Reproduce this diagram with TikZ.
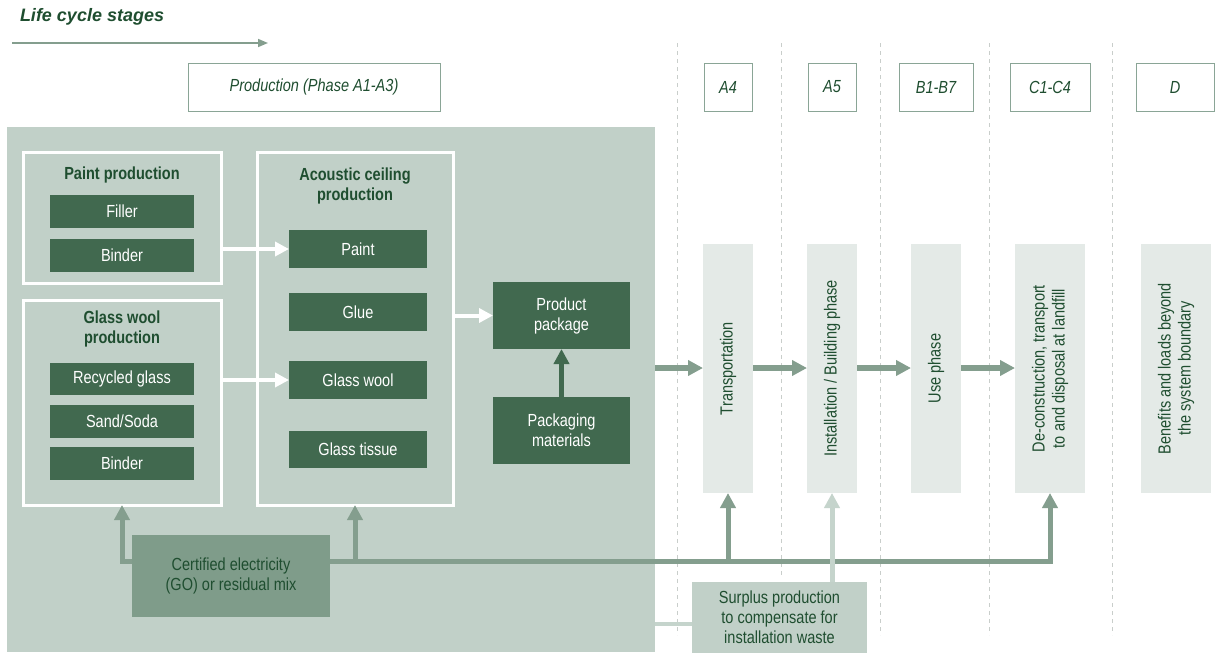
\documentclass[tikz,border=0pt]{standalone}
\usepackage{fontspec}
\setmainfont{Liberation Sans}[FakeStretch=0.83]
\newfontfamily\titlefont{Liberation Sans}
\usetikzlibrary{arrows.meta}
\definecolor{darkbox}{HTML}{41694F}
\definecolor{prodbgc}{HTML}{C1D0C8}
\definecolor{elecc}{HTML}{7F9C8A}
\definecolor{stagec}{HTML}{E4EAE7}
\definecolor{arrowc}{HTML}{849E8E}
\definecolor{surplusarr}{HTML}{C5D4CC}
\definecolor{txtc}{HTML}{1F4E30}
\definecolor{labelc}{HTML}{8AA596}
\definecolor{dashc}{HTML}{C9CECB}
\begin{document}
\begin{tikzpicture}[x=1pt,y=-1pt,
  every node/.style={inner sep=0pt, outer sep=0pt, font=\fontsize{17.5}{20}\selectfont, align=center},
  darkbox/.style={fill=darkbox, text=white, minimum width=144pt, minimum height=33pt},
  innerbox/.style={fill=darkbox, text=white, minimum width=138pt, minimum height=38pt},
  group/.style={draw=white, line width=3pt},
  grouptitle/.style={text=txtc, font=\fontsize{17.5}{20}\selectfont\bfseries},
  stagebox/.style={fill=stagec, minimum height=249pt},
  stagetext/.style={rotate=90, text=txtc},
  labelbox/.style={draw=labelc, line width=1pt, fill=white, minimum height=48pt, text=txtc, font=\fontsize{17.5}{20}\selectfont\itshape},
  divider/.style={draw=dashc, line width=1pt, dash pattern=on 4pt off 4pt},
  stagearrow/.style={draw=arrowc, line width=5.5pt, -{Triangle[length=15pt,width=15pt]}},
  elarrow/.style={draw=arrowc, line width=5pt, -{Triangle[length=15pt,width=15pt]}},
  whitearrow/.style={draw=white, line width=4pt, -{Triangle[length=14pt,width=14pt]}},
  packarrow/.style={draw=darkbox, line width=5pt, -{Triangle[length=15pt,width=15pt]}}
]
\fill[white] (0,0) rectangle (1216,653);
\useasboundingbox (0,0) rectangle (1216,653);

% title and life cycle arrow
\node[anchor=west, text=txtc, font=\fontsize{18}{20}\titlefont\bfseries\itshape] (lctitle) at (20,17) {Life cycle stages};
\coordinate (lcstart) at (12,43);
\coordinate (lcend) at (268,43);
\draw[draw=arrowc, line width=1.5pt, -{Triangle[length=10pt,width=8pt]}] (lcstart) -- (lcend);

% dashed dividers
\coordinate (d1t) at (677,43);  \coordinate (d1b) at (677,635);
\coordinate (d2t) at (781,43);  \coordinate (d2b) at (781,577);
\coordinate (d3t) at (880,43);  \coordinate (d3b) at (880,635);
\coordinate (d4t) at (989,43);  \coordinate (d4b) at (989,635);
\coordinate (d5t) at (1112,43); \coordinate (d5b) at (1112,635);
\foreach \i in {1,...,5} {\draw[divider] (d\i t) -- (d\i b);}

% stage labels
\node[labelbox, minimum width=252pt] (prodlab) at (314,87) {Production (Phase A1-A3)};
\node[labelbox, minimum width=48pt] (labA4) at (728,87) {A4};
\node[labelbox, minimum width=48pt] (labA5) at (832,87) {A5};
\node[labelbox, minimum width=74pt] (labB) at (936,87) {B1-B7};
\node[labelbox, minimum width=80pt] (labC) at (1050,87) {C1-C4};
\node[labelbox, minimum width=78pt] (labD) at (1175,87) {D};

% production background
\node[fill=prodbgc, minimum width=648pt, minimum height=525pt] (prodbg) at (331,389.5) {};

% groups
\node[group, minimum width=198pt, minimum height=131pt] (paintprod) at (122,217.5) {};
\node[group, minimum width=198pt, minimum height=205pt] (glassprod) at (122,402.5) {};
\node[group, minimum width=196pt, minimum height=353pt] (acoustic) at (355,328.5) {};
\node[grouptitle] (painttitle) at (122,175) {Paint production};
\node[grouptitle] (glasstitle) at (122,328.5) {Glass wool\\production};
\node[grouptitle] (acoustictitle) at (355,186) {Acoustic ceiling\\production};

% material boxes
\node[darkbox] (filler) at (122,211.5) {Filler};
\node[darkbox] (binderA) at (122,255.5) {Binder};
\node[darkbox, minimum height=32pt] (recycled) at (122,379) {Recycled glass};
\node[darkbox] (sand) at (122,421.5) {Sand/Soda};
\node[darkbox] (binderB) at (122,463.5) {Binder};

\node[innerbox] (paint) at (358,249) {Paint};
\node[innerbox] (glue) at (358,312) {Glue};
\node[innerbox] (gwool) at (358,380) {Glass wool};
\node[innerbox, minimum height=37pt] (tissue) at (358,449.5) {Glass tissue};

\node[fill=darkbox, text=white, minimum width=137pt, minimum height=67pt] (package) at (561.5,315.5) {Product\\package};
\node[fill=darkbox, text=white, minimum width=137pt, minimum height=67pt] (packmat) at (561.5,430.5) {Packaging\\materials};

% white arrows
\draw[whitearrow] (paintprod.east |- paint) -- (paint.west);
\draw[whitearrow] (glassprod.east |- gwool) -- (gwool.west);
\draw[whitearrow] (acoustic.east |- package) -- (package.west);
\draw[packarrow] (packmat.north) -- (package.south);

% stage boxes
\node[stagebox, minimum width=50pt] (trans) at (728,368.5) {};
\node[stagebox, minimum width=50pt] (install) at (832,368.5) {};
\node[stagebox, minimum width=50pt] (use) at (936,368.5) {};
\node[stagebox, minimum width=70pt] (decon) at (1050,368.5) {};
\node[stagebox, minimum width=70pt] (benefit) at (1176,368.5) {};
\node[stagetext] (transtxt) at (trans) {Transportation};
\node[stagetext] (installtxt) at (install) {Installation / Building phase};
\node[stagetext] (usetxt) at (use) {Use phase};
\node[stagetext] (decontxt) at (decon) {De-construction, transport\\to and disposal at landfill};
\node[stagetext] (benefittxt) at (benefit) {Benefits and loads beyond\\the system boundary};

% stage arrows
\coordinate (flowy) at (0,368);
\draw[stagearrow] (prodbg.east |- flowy) -- (trans.west |- flowy);
\draw[stagearrow] (trans.east |- flowy) -- (install.west |- flowy);
\draw[stagearrow] (install.east |- flowy) -- (use.west |- flowy);
\draw[stagearrow] (use.east |- flowy) -- (decon.west |- flowy);

% electricity
\node[fill=elecc, text=txtc, minimum width=198pt, minimum height=82pt] (elec) at (231,576) {Certified electricity\\(GO) or residual mix};
\coordinate (busy) at (0,561);
\draw[elarrow] (elec.west |- busy) -| (glassprod.south);
\draw[elarrow, line join=miter] (elec.east |- busy) -| (decon.south);
\draw[elarrow] (acoustic.south |- busy) -- (acoustic.south);
\draw[elarrow] (trans.south |- busy) -- (trans.south);

% surplus
\node[fill=prodbgc, text=txtc, minimum width=175pt, minimum height=71pt] (surplus) at (779.5,617.5) {Surplus production\\to compensate for\\installation waste};
\draw[draw=surplusarr, line width=5pt, -{Triangle[length=15pt,width=15pt]}] (install.south |- surplus.north) -- (install.south);
\coordinate (surplusy) at (0,624);
\draw[draw=surplusarr, line width=4pt] (surplus.west |- surplusy) -- (prodbg.east |- surplusy);
\end{tikzpicture}
\end{document}
